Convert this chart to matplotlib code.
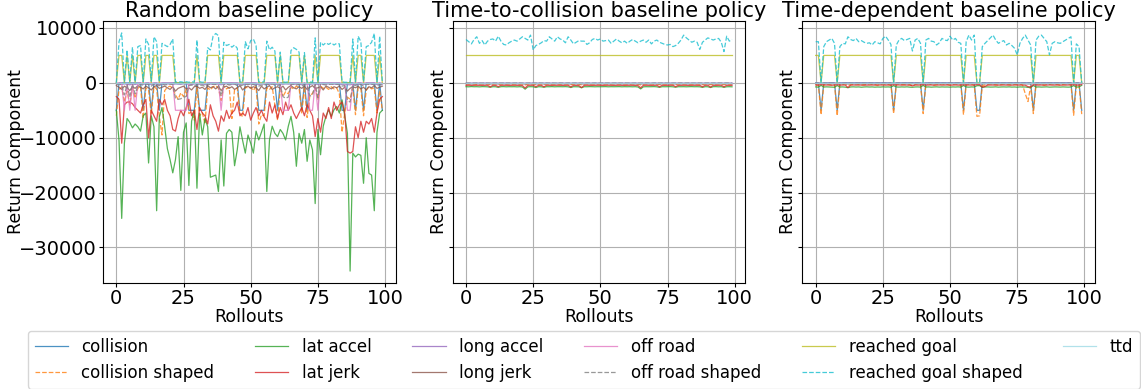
import numpy as np
import matplotlib.pyplot as plt

# Return components per rollout (values in thousands)
rollouts = np.arange(100)

labels = ['collision', 'collision shaped', 'lat accel', 'lat jerk', 'long accel',
          'long jerk', 'off road', 'off road shaped', 'reached goal',
          'reached goal shaped', 'ttd']

# ---------------- Random baseline policy ----------------
rnd_collision = [
    -5, 0, 0, 0, 0, 0, 0, 0, 0, 0,
    -5, 0, 0, -5, 0, 0, -5, 0, 0, 0,
    0, 0, 0, 0, 0, 0, 0, -5, -5, -5,
    0, -5, -5, -5, 0, 0, 0, 0, 0, 0,
    0, 0, 0, 0, 0, 0, -5, -5, 0, 0,
    0, 0, 0, -5, -5, -5, 0, 0, 0, 0,
    -5, 0, 0, 0, 0, 0, 0, 0, 0, -5,
    0, -5, 0, 0, 0, 0, 0, 0, 0, 0,
    0, 0, 0, 0, -5, -5, 0, 0, 0, -5,
    0, 0, -5, 0, 0, 0, 0, -5, 0, -5]
rnd_collision_shaped = [
    -6.0, -1.2, -0.8, -3.5, -1.5, -4.0, -0.9, -2.8, -1.0, -0.6,
    -6.5, -0.9, -1.3, -5.8, -0.7, -1.1, -6.2, -9.5, -1.4, -0.8,
    -0.6, -1.0, -2.2, -3.0, -1.8, -2.5, -1.2, -5.6, -5.3, -6.8,
    -0.8, -6.0, -5.4, -7.5, -0.9, -1.3, -0.7, -0.5, -1.0, -3.2,
    -0.6, -1.1, -0.8, -6.5, -1.2, -0.9, -5.5, -6.2, -0.7, -1.0,
    -0.8, -1.4, -0.6, -7.5, -5.8, -6.0, -0.9, -1.2, -0.7, -4.0,
    -6.8, -1.0, -2.5, -1.6, -2.0, -0.8, -1.1, -0.6, -0.9, -5.6,
    -0.7, -6.3, -2.4, -1.9, -0.9, -3.0, -0.6, -1.0, -0.8, -1.2,
    -0.7, -1.1, -0.9, -2.0, -9.0, -5.5, -2.6, -3.0, -1.0, -5.8,
    -0.8, -1.0, -6.0, -1.3, -0.7, -1.1, -0.9, -5.5, -1.4, -5.0]
rnd_lat_accel = [
    -5.0, -10.5, -24.7, -11.0, -6.5, -7.2, -8.2, -7.5, -8.0, -8.8,
    -6.0, -5.5, -14.6, -6.0, -8.0, -23.3, -6.2, -4.5, -8.0, -12.0,
    -14.0, -16.4, -14.0, -9.8, -19.6, -9.0, -7.3, -18.7, -7.0, -5.0,
    -19.2, -5.5, -9.5, -6.5, -8.0, -17.2, -17.0, -16.8, -19.8, -10.4,
    -18.8, -9.2, -8.5, -9.0, -15.1, -12.2, -8.0, -10.5, -12.8, -9.5,
    -11.0, -12.8, -8.8, -10.4, -9.0, -7.5, -19.8, -10.4, -7.9, -9.2,
    -9.8, -8.5, -9.2, -10.4, -7.9, -6.1, -9.0, -15.2, -9.2, -11.0,
    -8.5, -14.3, -10.4, -12.2, -22.0, -8.5, -13.1, -7.9, -6.1, -4.9,
    -6.1, -4.9, -4.3, -5.5, -3.1, -6.0, -9.2, -34.3, -12.8, -13.5,
    -13.0, -13.2, -18.3, -10.0, -16.5, -16.8, -23.3, -9.0, -5.5, -5.0]
rnd_lat_jerk = [
    -2.5, -3.0, -11.0, -4.0, -3.5, -3.5, -3.8, -4.5, -5.0, -5.5,
    -4.0, -3.0, -10.0, -5.0, -6.0, -7.0, -3.0, -4.0, -3.0, -5.0,
    -6.0, -8.5, -8.8, -6.5, -5.0, -6.0, -4.5, -3.0, -6.0, -5.0,
    -8.5, -4.5, -5.5, -6.0, -7.5, -4.0, -6.0, -7.0, -8.8, -6.0,
    -7.0, -5.0, -6.5, -5.5, -5.0, -3.5, -6.0, -5.5, -6.0, -4.5,
    -6.8, -5.5, -4.5, -6.0, -5.0, -6.2, -7.0, -3.5, -5.5, -4.0,
    -6.5, -4.5, -5.8, -3.5, -5.0, -4.0, -5.5, -6.5, -5.5, -4.5,
    -6.0, -4.0, -5.0, -6.0, -9.8, -6.5, -9.0, -5.5, -6.5, -4.5,
    -6.5, -3.5, -5.0, -4.0, -3.5, -5.5, -12.5, -12.8, -12.5, -8.0,
    -10.0, -7.0, -9.0, -7.0, -7.5, -6.5, -9.0, -5.5, -3.0, -2.5]
rnd_long_accel = [
    -0.15, -0.22, -0.30, -0.18, -0.25, -0.35, -0.20, -0.28, -0.16, -0.21,
    -0.27, -0.19, -0.24, -0.32, -0.17, -0.23, -0.29, -0.20, -0.26, -0.18,
    -0.22, -0.31, -0.19, -0.25, -0.28, -0.16, -0.24, -0.21, -0.33, -0.20,
    -0.18, -0.26, -0.23, -0.30, -0.17, -0.22, -0.27, -0.19, -0.25, -0.34,
    -0.21, -0.16, -0.24, -0.28, -0.20, -0.23, -0.31, -0.18, -0.26, -0.22,
    -0.19, -0.27, -0.21, -0.33, -0.17, -0.25, -0.22, -0.29, -0.18, -0.24,
    -0.30, -0.20, -0.26, -0.19, -0.23, -0.16, -0.28, -0.21, -0.25, -0.32,
    -0.18, -0.24, -0.27, -0.20, -0.22, -0.30, -0.17, -0.26, -0.23, -0.19,
    -0.25, -0.21, -0.28, -0.18, -0.34, -0.24, -0.31, -0.36, -0.20, -0.27,
    -0.22, -0.19, -0.29, -0.23, -0.17, -0.26, -0.21, -0.30, -0.18, -0.24]
rnd_long_jerk = [
    -0.5, -0.8, -1.2, -0.6, -0.9, -1.4, -0.7, -1.0, -0.5, -0.8,
    -1.1, -0.6, -0.9, -1.3, -0.7, -0.5, -1.0, -0.8, -0.6, -0.9,
    -1.2, -0.7, -1.5, -1.0, -0.8, -0.6, -1.1, -0.9, -1.3, -0.7,
    -0.6, -1.0, -0.8, -1.2, -0.5, -0.9, -0.7, -1.1, -0.6, -1.4,
    -0.8, -0.6, -1.0, -0.7, -1.2, -0.9, -0.5, -1.3, -0.8, -0.6,
    -1.0, -0.7, -0.9, -1.4, -0.6, -1.1, -0.8, -0.5, -1.2, -0.9,
    -0.7, -1.0, -0.6, -1.3, -0.8, -0.5, -0.9, -1.1, -0.7, -1.0,
    -0.6, -1.2, -0.8, -0.5, -1.0, -0.9, -0.7, -1.3, -0.6, -0.8,
    -1.1, -0.7, -0.9, -0.6, -1.2, -0.8, -1.5, -1.0, -0.7, -0.9,
    -0.6, -1.1, -0.8, -1.3, -0.7, -0.9, -0.5, -1.0, -0.8, -0.6]
rnd_off_road = [
    0, 0, 0, -5, 0, -5, 0, -5, 0, 0,
    0, 0, 0, 0, 0, 0, 0, 0, 0, 0,
    0, 0, -5, -5, -5, -5, -5, 0, 0, 0,
    0, 0, 0, 0, 0, 0, 0, 0, 0, -5,
    0, 0, 0, 0, 0, 0, 0, 0, 0, 0,
    0, 0, 0, 0, 0, 0, 0, 0, 0, 0,
    0, 0, -5, -5, -5, 0, 0, 0, 0, 0,
    0, 0, -5, -5, 0, -5, 0, 0, 0, 0,
    0, 0, 0, 0, 0, 0, -5, -5, 0, 0,
    0, 0, 0, 0, 0, 0, 0, 0, 0, 0]
rnd_off_road_shaped = [
    -0.3, -0.2, -0.4, -2.2, -0.3, -2.6, -0.2, -2.0, -0.5, -0.3,
    -0.4, -0.2, -0.3, -0.6, -0.2, -0.3, -0.5, -0.2, -0.4, -0.3,
    -0.2, -0.3, -2.8, -3.0, -2.9, -2.6, -2.5, -0.5, -0.4, -0.6,
    -0.3, -0.5, -0.4, -0.7, -0.2, -0.3, -0.2, -0.3, -0.4, -2.4,
    -0.3, -0.2, -0.4, -0.3, -0.2, -0.5, -0.6, -0.4, -0.2, -0.3,
    -0.2, -0.3, -0.5, -0.6, -0.4, -0.5, -0.2, -0.3, -0.2, -0.4,
    -0.5, -0.3, -2.5, -2.8, -2.6, -0.3, -0.2, -0.4, -0.3, -0.6,
    -0.3, -0.5, -2.4, -2.2, -0.3, -2.7, -0.2, -0.3, -0.4, -0.3,
    -0.2, -0.3, -0.2, -0.4, -0.6, -0.5, -3.2, -3.5, -0.3, -0.5,
    -0.2, -0.3, -0.6, -0.2, -0.3, -0.2, -0.4, -0.5, -0.3, -0.4]
rnd_reached_goal = [
    0, 5, 5, 0, 5, 0, 5, 0, 5, 5,
    0, 5, 5, 0, 5, 5, 0, 5, 5, 5,
    5, 5, 0, 0, 0, 0, 0, 0, 0, 0,
    5, 0, 0, 0, 5, 5, 5, 5, 5, 0,
    5, 5, 5, 5, 5, 5, 0, 0, 5, 5,
    5, 5, 5, 0, 0, 0, 5, 5, 5, 5,
    0, 5, 0, 0, 0, 5, 5, 5, 5, 0,
    5, 0, 0, 0, 5, 0, 5, 5, 5, 5,
    5, 5, 5, 5, 0, 0, 0, 0, 5, 0,
    5, 5, 0, 5, 5, 5, 5, 0, 5, 0]
rnd_reached_goal_shaped = [
    0.0, 7.5, 9.1, 0.2, 6.0, 0.3, 6.5, 0.2, 6.6, 6.8,
    0.2, 8.0, 7.0, 0.3, 8.4, 7.5, 0.2, 7.2, 6.9, 6.6,
    7.0, 8.0, 0.2, 0.1, 0.2, 0.1, 0.2, 0.1, 0.2, 0.1,
    7.8, 0.2, 0.1, 0.2, 6.4, 6.0, 8.5, 9.0, 8.6, 0.3,
    7.4, 6.8, 7.0, 6.5, 6.9, 6.3, 0.2, 0.1, 7.5, 6.2,
    7.7, 8.0, 6.8, 0.2, 0.1, 0.2, 7.6, 6.0, 6.5, 5.8,
    0.1, 5.6, 0.2, 0.1, 0.2, 5.9, 6.4, 6.1, 5.6, 0.2,
    5.5, 0.1, 0.2, 0.1, 8.2, 0.2, 7.4, 6.9, 7.3, 7.0,
    7.3, 6.9, 7.2, 7.1, 0.2, 0.1, 0.1, 0.2, 8.0, 0.2,
    8.5, 7.5, 0.2, 6.6, 6.8, 7.4, 9.0, 0.2, 8.5, 0.1]
rnd_ttd = [
    -0.08, -0.12, -0.10, -0.15, -0.09, -0.11, -0.13, -0.07, -0.10, -0.12,
    -0.14, -0.09, -0.11, -0.16, -0.08, -0.10, -0.13, -0.09, -0.12, -0.10,
    -0.11, -0.13, -0.15, -0.14, -0.12, -0.16, -0.13, -0.10, -0.09, -0.11,
    -0.09, -0.12, -0.10, -0.14, -0.08, -0.11, -0.10, -0.09, -0.12, -0.15,
    -0.10, -0.08, -0.11, -0.13, -0.09, -0.12, -0.14, -0.10, -0.08, -0.11,
    -0.09, -0.12, -0.10, -0.15, -0.13, -0.11, -0.08, -0.10, -0.09, -0.12,
    -0.14, -0.10, -0.15, -0.13, -0.12, -0.09, -0.11, -0.08, -0.10, -0.13,
    -0.09, -0.12, -0.14, -0.15, -0.10, -0.13, -0.08, -0.11, -0.09, -0.10,
    -0.12, -0.09, -0.10, -0.11, -0.14, -0.13, -0.16, -0.15, -0.09, -0.12,
    -0.10, -0.08, -0.13, -0.11, -0.09, -0.10, -0.12, -0.14, -0.09, -0.11]

# ---------------- Time-to-collision baseline policy ----------------
ttc_collision = [
    0, 0, 0, 0, 0, 0, 0, 0, 0, 0,
    0, 0, 0, 0, 0, 0, 0, 0, 0, 0,
    0, 0, 0, 0, 0, 0, 0, 0, 0, 0,
    0, 0, 0, 0, 0, 0, 0, 0, 0, 0,
    0, 0, 0, 0, 0, 0, 0, 0, 0, 0,
    0, 0, 0, 0, 0, 0, 0, 0, 0, 0,
    0, 0, 0, 0, 0, 0, 0, 0, 0, 0,
    0, 0, 0, 0, 0, 0, 0, 0, 0, 0,
    0, 0, 0, 0, 0, 0, 0, 0, 0, 0,
    0, 0, 0, 0, 0, 0, 0, 0, 0, 0]
ttc_collision_shaped = [
    -0.20, -0.25, -0.18, -0.22, -0.30, -0.21, -0.19, -0.24, -0.20, -0.35,
    -0.22, -0.18, -0.32, -0.21, -0.20, -0.23, -0.19, -0.25, -0.21, -0.20,
    -0.24, -0.22, -0.40, -0.20, -0.19, -0.21, -0.33, -0.22, -0.20, -0.31,
    -0.21, -0.19, -0.23, -0.20, -0.22, -0.24, -0.18, -0.21, -0.20, -0.34,
    -0.22, -0.20, -0.25, -0.36, -0.21, -0.19, -0.23, -0.20, -0.22, -0.21,
    -0.19, -0.24, -0.20, -0.22, -0.21, -0.18, -0.23, -0.20, -0.22, -0.21,
    -0.20, -0.23, -0.19, -0.21, -0.26, -0.38, -0.22, -0.20, -0.21, -0.19,
    -0.22, -0.20, -0.32, -0.21, -0.23, -0.20, -0.19, -0.22, -0.31, -0.21,
    -0.20, -0.22, -0.19, -0.21, -0.23, -0.20, -0.22, -0.21, -0.33, -0.20,
    -0.21, -0.34, -0.20, -0.22, -0.19, -0.21, -0.32, -0.20, -0.22, -0.21]
ttc_lat_accel = [
    -0.70, -0.72, -0.68, -0.71, -0.70, -0.73, -0.69, -0.70, -0.72, -0.80,
    -0.70, -0.71, -0.82, -0.70, -0.69, -0.72, -0.70, -0.71, -0.70, -0.73,
    -0.70, -0.75, -1.15, -0.72, -0.70, -0.71, -0.85, -0.70, -0.72, -0.80,
    -0.70, -0.71, -0.69, -0.72, -0.70, -0.70, -0.71, -0.69, -0.72, -0.85,
    -0.70, -0.71, -0.72, -0.90, -0.70, -0.71, -0.69, -0.70, -0.72, -0.70,
    -0.71, -0.70, -0.69, -0.72, -0.70, -0.71, -0.70, -0.69, -0.72, -0.70,
    -0.71, -0.70, -0.72, -0.70, -0.75, -1.10, -0.72, -0.70, -0.71, -0.70,
    -0.69, -0.72, -0.82, -0.70, -0.71, -0.70, -0.69, -0.72, -0.80, -0.70,
    -0.71, -0.70, -0.72, -0.70, -0.69, -0.71, -0.70, -0.72, -0.82, -0.70,
    -0.71, -0.85, -0.70, -0.69, -0.72, -0.70, -0.82, -0.71, -0.70, -0.72]
ttc_lat_jerk = [
    -0.45, -0.44, -0.46, -0.45, -0.44, -0.45, -0.46, -0.45, -0.44, -0.75,
    -0.45, -0.46, -0.70, -0.45, -0.44, -0.45, -0.46, -0.45, -0.44, -0.45,
    -0.46, -0.50, -0.95, -0.45, -0.44, -0.45, -0.70, -0.46, -0.45, -0.72,
    -0.44, -0.45, -0.46, -0.45, -0.44, -0.45, -0.46, -0.45, -0.44, -0.75,
    -0.45, -0.46, -0.50, -0.85, -0.45, -0.44, -0.45, -0.46, -0.45, -0.44,
    -0.45, -0.46, -0.45, -0.44, -0.45, -0.46, -0.45, -0.44, -0.45, -0.46,
    -0.45, -0.44, -0.45, -0.46, -0.50, -0.90, -0.45, -0.44, -0.45, -0.46,
    -0.45, -0.44, -0.72, -0.45, -0.46, -0.45, -0.44, -0.45, -0.70, -0.46,
    -0.45, -0.44, -0.45, -0.46, -0.45, -0.44, -0.45, -0.46, -0.72, -0.45,
    -0.44, -0.78, -0.45, -0.46, -0.45, -0.44, -0.72, -0.45, -0.46, -0.45]
ttc_long_accel = [
    -0.06, -0.05, -0.07, -0.06, -0.05, -0.06, -0.07, -0.05, -0.06, -0.08,
    -0.05, -0.06, -0.07, -0.06, -0.05, -0.06, -0.05, -0.07, -0.06, -0.05,
    -0.06, -0.07, -0.09, -0.06, -0.05, -0.06, -0.07, -0.05, -0.06, -0.07,
    -0.05, -0.06, -0.05, -0.07, -0.06, -0.05, -0.06, -0.07, -0.05, -0.08,
    -0.06, -0.05, -0.07, -0.08, -0.06, -0.05, -0.06, -0.07, -0.05, -0.06,
    -0.07, -0.05, -0.06, -0.05, -0.07, -0.06, -0.05, -0.06, -0.07, -0.05,
    -0.06, -0.05, -0.07, -0.06, -0.07, -0.09, -0.06, -0.05, -0.06, -0.07,
    -0.05, -0.06, -0.08, -0.05, -0.06, -0.07, -0.05, -0.06, -0.07, -0.06,
    -0.05, -0.07, -0.06, -0.05, -0.06, -0.07, -0.05, -0.06, -0.08, -0.06,
    -0.05, -0.08, -0.06, -0.07, -0.05, -0.06, -0.08, -0.05, -0.06, -0.07]
ttc_long_jerk = [
    -0.15, -0.14, -0.16, -0.15, -0.13, -0.15, -0.16, -0.14, -0.15, -0.18,
    -0.14, -0.15, -0.17, -0.15, -0.14, -0.16, -0.15, -0.13, -0.15, -0.14,
    -0.16, -0.15, -0.20, -0.14, -0.15, -0.16, -0.17, -0.15, -0.14, -0.18,
    -0.15, -0.14, -0.16, -0.15, -0.13, -0.15, -0.16, -0.14, -0.15, -0.18,
    -0.14, -0.15, -0.16, -0.19, -0.15, -0.14, -0.16, -0.15, -0.13, -0.15,
    -0.16, -0.14, -0.15, -0.14, -0.16, -0.15, -0.13, -0.15, -0.16, -0.14,
    -0.15, -0.14, -0.16, -0.15, -0.17, -0.20, -0.15, -0.14, -0.16, -0.15,
    -0.14, -0.15, -0.18, -0.15, -0.14, -0.16, -0.15, -0.14, -0.17, -0.15,
    -0.16, -0.14, -0.15, -0.16, -0.14, -0.15, -0.13, -0.15, -0.18, -0.15,
    -0.14, -0.18, -0.15, -0.16, -0.14, -0.15, -0.17, -0.15, -0.14, -0.16]
ttc_off_road = [
    0, 0, 0, 0, 0, 0, 0, 0, 0, 0,
    0, 0, 0, 0, 0, 0, 0, 0, 0, 0,
    0, 0, 0, 0, 0, 0, 0, 0, 0, 0,
    0, 0, 0, 0, 0, 0, 0, 0, 0, 0,
    0, 0, 0, 0, 0, 0, 0, 0, 0, 0,
    0, 0, 0, 0, 0, 0, 0, 0, 0, 0,
    0, 0, 0, 0, 0, 0, 0, 0, 0, 0,
    0, 0, 0, 0, 0, 0, 0, 0, 0, 0,
    0, 0, 0, 0, 0, 0, 0, 0, 0, 0,
    0, 0, 0, 0, 0, 0, 0, 0, 0, 0]
ttc_off_road_shaped = [
    -0.04, -0.03, -0.05, -0.04, -0.03, -0.04, -0.05, -0.03, -0.04, -0.05,
    -0.03, -0.04, -0.05, -0.04, -0.03, -0.04, -0.03, -0.05, -0.04, -0.03,
    -0.04, -0.05, -0.06, -0.04, -0.03, -0.04, -0.05, -0.03, -0.04, -0.05,
    -0.03, -0.04, -0.03, -0.05, -0.04, -0.03, -0.04, -0.05, -0.03, -0.05,
    -0.04, -0.03, -0.05, -0.06, -0.04, -0.03, -0.04, -0.05, -0.03, -0.04,
    -0.05, -0.03, -0.04, -0.03, -0.05, -0.04, -0.03, -0.04, -0.05, -0.03,
    -0.04, -0.03, -0.05, -0.04, -0.05, -0.06, -0.04, -0.03, -0.04, -0.05,
    -0.03, -0.04, -0.05, -0.03, -0.04, -0.05, -0.03, -0.04, -0.05, -0.04,
    -0.03, -0.05, -0.04, -0.03, -0.04, -0.05, -0.03, -0.04, -0.05, -0.04,
    -0.03, -0.05, -0.04, -0.05, -0.03, -0.04, -0.05, -0.03, -0.04, -0.05]
ttc_reached_goal = [
    5, 5, 5, 5, 5, 5, 5, 5, 5, 5,
    5, 5, 5, 5, 5, 5, 5, 5, 5, 5,
    5, 5, 5, 5, 5, 5, 5, 5, 5, 5,
    5, 5, 5, 5, 5, 5, 5, 5, 5, 5,
    5, 5, 5, 5, 5, 5, 5, 5, 5, 5,
    5, 5, 5, 5, 5, 5, 5, 5, 5, 5,
    5, 5, 5, 5, 5, 5, 5, 5, 5, 5,
    5, 5, 5, 5, 5, 5, 5, 5, 5, 5,
    5, 5, 5, 5, 5, 5, 5, 5, 5, 5,
    5, 5, 5, 5, 5, 5, 5, 5, 5, 5]
ttc_reached_goal_shaped = [
    7.9, 7.5, 7.1, 7.9, 8.4, 7.2, 7.7, 6.9, 7.6, 7.9,
    8.0, 7.6, 8.5, 7.6, 7.0, 6.9, 7.3, 7.6, 7.8, 7.6,
    8.0, 8.4, 8.1, 7.8, 8.7, 6.0, 6.8, 7.0, 7.3, 7.7,
    7.6, 8.4, 8.0, 7.6, 8.4, 8.0, 7.8, 7.3, 8.4, 7.8,
    7.1, 7.4, 7.7, 7.6, 7.6, 7.0, 7.3, 7.9, 8.1, 7.8,
    8.0, 7.6, 7.7, 7.8, 7.2, 7.6, 8.0, 7.6, 7.3, 7.6,
    7.2, 7.6, 7.9, 7.6, 7.3, 7.6, 7.8, 7.4, 7.8, 7.1,
    7.6, 7.8, 7.4, 7.2, 7.0, 6.9, 7.0, 6.6, 6.8, 7.2,
    7.8, 8.7, 8.2, 7.8, 7.4, 7.6, 7.4, 6.1, 7.4, 7.8,
    8.2, 8.0, 7.8, 8.0, 8.1, 7.4, 5.7, 8.5, 7.6, 7.9]
ttc_ttd = [
    -0.10, -0.09, -0.11, -0.10, -0.08, -0.10, -0.11, -0.09, -0.10, -0.12,
    -0.09, -0.10, -0.12, -0.10, -0.09, -0.11, -0.10, -0.08, -0.10, -0.09,
    -0.11, -0.10, -0.14, -0.09, -0.10, -0.11, -0.12, -0.10, -0.09, -0.12,
    -0.10, -0.09, -0.11, -0.10, -0.08, -0.10, -0.11, -0.09, -0.10, -0.12,
    -0.09, -0.10, -0.11, -0.13, -0.10, -0.09, -0.11, -0.10, -0.08, -0.10,
    -0.11, -0.09, -0.10, -0.09, -0.11, -0.10, -0.08, -0.10, -0.11, -0.09,
    -0.10, -0.09, -0.11, -0.10, -0.12, -0.14, -0.10, -0.09, -0.11, -0.10,
    -0.09, -0.10, -0.12, -0.10, -0.09, -0.11, -0.10, -0.09, -0.12, -0.10,
    -0.11, -0.09, -0.10, -0.11, -0.09, -0.10, -0.08, -0.10, -0.12, -0.10,
    -0.09, -0.12, -0.10, -0.11, -0.09, -0.10, -0.12, -0.10, -0.09, -0.11]

# ---------------- Time-dependent baseline policy ----------------
td_collision = [
    0, 0, -5, 0, 0, 0, 0, 0, -5, 0,
    0, 0, 0, 0, 0, 0, 0, 0, 0, 0,
    0, 0, 0, 0, 0, 0, 0, 0, 0, -5,
    0, 0, 0, 0, 0, 0, 0, 0, 0, 0,
    -5, 0, 0, 0, 0, 0, 0, 0, 0, 0,
    0, 0, 0, 0, 0, -5, 0, 0, 0, 0,
    -5, -5, 0, 0, 0, 0, 0, 0, 0, 0,
    0, 0, 0, 0, 0, 0, 0, 0, 0, 0,
    0, -5, 0, 0, 0, 0, 0, 0, 0, 0,
    0, 0, 0, 0, 0, 0, -5, 0, 0, -5]
td_collision_shaped = [
    -0.3, -0.4, -5.8, -0.3, -0.2, -0.3, -0.4, -0.3, -6.0, -0.3,
    -0.3, -0.2, -0.5, -0.3, -0.3, -0.2, -0.3, -0.4, -0.3, -0.3,
    -0.2, -0.3, -0.3, -0.4, -0.3, -0.2, -0.3, -0.3, -0.4, -5.6,
    -0.3, -0.2, -0.3, -0.3, -0.4, -0.3, -0.5, -0.3, -0.2, -0.3,
    -5.6, -0.3, -0.2, -0.3, -0.4, -0.3, -0.3, -0.2, -0.3, -0.3,
    -0.4, -0.3, -0.2, -0.3, -0.4, -5.8, -0.3, -0.3, -0.2, -0.4,
    -6.1, -6.0, -0.5, -0.4, -0.3, -0.2, -0.3, -0.3, -0.4, -0.3,
    -0.2, -0.3, -0.3, -0.4, -0.3, -0.3, -0.2, -0.4, -2.0, -3.4,
    -0.6, -5.6, -0.3, -0.2, -0.3, -0.4, -0.3, -0.3, -0.2, -0.3,
    -0.3, -0.4, -0.3, -0.2, -0.3, -0.3, -5.9, -0.4, -0.3, -5.7]
td_lat_accel = [
    -0.74, -0.78, -0.45, -0.76, -0.73, -0.75, -0.77, -0.80, -0.48, -0.76,
    -0.74, -0.78, -0.88, -0.75, -0.73, -0.76, -0.74, -0.79, -0.75, -0.73,
    -0.76, -0.74, -0.78, -0.75, -0.77, -0.73, -0.76, -0.74, -0.78, -0.50,
    -0.75, -0.77, -0.74, -0.76, -0.73, -0.78, -0.80, -0.75, -0.74, -0.77,
    -0.46, -0.76, -0.74, -0.78, -0.75, -0.73, -0.77, -0.74, -0.76, -0.75,
    -0.78, -0.74, -0.76, -0.73, -0.77, -0.47, -0.75, -0.78, -0.74, -0.76,
    -0.52, -0.50, -0.82, -0.75, -0.74, -0.77, -0.76, -0.73, -0.78, -0.75,
    -0.74, -0.76, -0.73, -0.77, -0.75, -0.79, -0.74, -0.76, -0.75, -0.82,
    -0.85, -0.48, -0.76, -0.74, -0.77, -0.75, -0.73, -0.78, -0.76, -0.74,
    -0.75, -0.77, -0.74, -0.76, -0.78, -0.75, -0.49, -0.77, -0.74, -0.45]
td_lat_jerk = [
    -0.38, -0.42, -0.30, -0.40, -0.39, -0.41, -0.43, -0.40, -0.32, -0.41,
    -0.39, -0.40, -0.85, -0.42, -0.38, -0.41, -0.40, -0.39, -0.43, -0.40,
    -0.41, -0.39, -0.40, -0.42, -0.38, -0.40, -0.41, -0.39, -0.42, -0.31,
    -0.40, -0.38, -0.41, -0.40, -0.39, -0.42, -0.55, -0.40, -0.41, -0.39,
    -0.30, -0.41, -0.40, -0.38, -0.42, -0.40, -0.39, -0.41, -0.40, -0.38,
    -0.42, -0.40, -0.39, -0.41, -0.40, -0.33, -0.41, -0.39, -0.40, -0.42,
    -0.31, -0.30, -0.80, -0.65, -0.41, -0.40, -0.39, -0.42, -0.40, -0.41,
    -0.39, -0.40, -0.42, -0.41, -0.38, -0.40, -0.41, -0.39, -0.42, -0.70,
    -0.75, -0.32, -0.40, -0.41, -0.39, -0.42, -0.40, -0.38, -0.41, -0.40,
    -0.39, -0.42, -0.40, -0.41, -0.38, -0.40, -0.31, -0.41, -0.40, -0.30]
td_long_accel = [
    -0.05, -0.06, -0.04, -0.05, -0.06, -0.05, -0.07, -0.05, -0.04, -0.06,
    -0.05, -0.06, -0.08, -0.05, -0.06, -0.05, -0.04, -0.06, -0.05, -0.06,
    -0.05, -0.06, -0.05, -0.07, -0.05, -0.06, -0.05, -0.04, -0.06, -0.04,
    -0.06, -0.05, -0.06, -0.05, -0.07, -0.05, -0.06, -0.05, -0.06, -0.05,
    -0.04, -0.06, -0.05, -0.06, -0.05, -0.07, -0.05, -0.06, -0.05, -0.06,
    -0.05, -0.06, -0.05, -0.06, -0.05, -0.04, -0.06, -0.05, -0.07, -0.05,
    -0.04, -0.04, -0.07, -0.06, -0.05, -0.06, -0.05, -0.06, -0.05, -0.06,
    -0.05, -0.06, -0.05, -0.06, -0.07, -0.05, -0.06, -0.05, -0.06, -0.07,
    -0.07, -0.04, -0.05, -0.06, -0.05, -0.06, -0.05, -0.06, -0.05, -0.06,
    -0.05, -0.06, -0.05, -0.06, -0.05, -0.06, -0.04, -0.06, -0.05, -0.04]
td_long_jerk = [
    -0.14, -0.16, -0.10, -0.15, -0.14, -0.16, -0.15, -0.14, -0.11, -0.15,
    -0.16, -0.14, -0.19, -0.15, -0.14, -0.16, -0.15, -0.14, -0.16, -0.15,
    -0.14, -0.16, -0.15, -0.14, -0.16, -0.15, -0.14, -0.16, -0.15, -0.10,
    -0.15, -0.14, -0.16, -0.15, -0.14, -0.16, -0.17, -0.15, -0.14, -0.16,
    -0.11, -0.15, -0.14, -0.16, -0.15, -0.14, -0.16, -0.15, -0.14, -0.16,
    -0.15, -0.14, -0.16, -0.15, -0.14, -0.10, -0.15, -0.16, -0.14, -0.15,
    -0.11, -0.10, -0.18, -0.17, -0.15, -0.14, -0.16, -0.15, -0.14, -0.16,
    -0.15, -0.14, -0.16, -0.15, -0.14, -0.16, -0.15, -0.14, -0.16, -0.18,
    -0.18, -0.11, -0.15, -0.14, -0.16, -0.15, -0.14, -0.16, -0.15, -0.14,
    -0.16, -0.15, -0.14, -0.16, -0.15, -0.14, -0.10, -0.15, -0.16, -0.11]
td_off_road = [
    0, 0, 0, 0, 0, 0, 0, 0, 0, 0,
    0, 0, 0, 0, 0, 0, 0, 0, 0, 0,
    0, 0, 0, 0, 0, 0, 0, 0, 0, 0,
    0, 0, 0, 0, 0, 0, 0, 0, 0, 0,
    0, 0, 0, 0, 0, 0, 0, 0, 0, 0,
    0, 0, 0, 0, 0, 0, 0, 0, 0, 0,
    0, 0, 0, 0, 0, 0, 0, 0, 0, 0,
    0, 0, 0, 0, 0, 0, 0, 0, 0, 0,
    0, 0, 0, 0, 0, 0, 0, 0, 0, 0,
    0, 0, 0, 0, 0, 0, 0, 0, 0, 0]
td_off_road_shaped = [
    -0.04, -0.05, -0.03, -0.04, -0.05, -0.04, -0.03, -0.05, -0.03, -0.04,
    -0.05, -0.04, -0.06, -0.04, -0.05, -0.03, -0.04, -0.05, -0.04, -0.03,
    -0.05, -0.04, -0.05, -0.03, -0.04, -0.05, -0.04, -0.03, -0.05, -0.03,
    -0.04, -0.05, -0.04, -0.03, -0.05, -0.04, -0.06, -0.04, -0.05, -0.04,
    -0.03, -0.04, -0.05, -0.04, -0.03, -0.05, -0.04, -0.05, -0.04, -0.03,
    -0.05, -0.04, -0.03, -0.05, -0.04, -0.03, -0.04, -0.05, -0.04, -0.05,
    -0.03, -0.03, -0.06, -0.05, -0.04, -0.03, -0.05, -0.04, -0.05, -0.04,
    -0.03, -0.05, -0.04, -0.05, -0.04, -0.03, -0.05, -0.04, -0.05, -0.06,
    -0.06, -0.03, -0.04, -0.05, -0.04, -0.03, -0.05, -0.04, -0.05, -0.04,
    -0.05, -0.04, -0.03, -0.05, -0.04, -0.05, -0.03, -0.04, -0.05, -0.03]
td_reached_goal = [
    5, 5, 0, 5, 5, 5, 5, 5, 0, 5,
    5, 5, 5, 5, 5, 5, 5, 5, 5, 5,
    5, 5, 5, 5, 5, 5, 5, 5, 5, 0,
    5, 5, 5, 5, 5, 5, 5, 5, 5, 5,
    0, 5, 5, 5, 5, 5, 5, 5, 5, 5,
    5, 5, 5, 5, 5, 0, 5, 5, 5, 5,
    0, 0, 5, 5, 5, 5, 5, 5, 5, 5,
    5, 5, 5, 5, 5, 5, 5, 5, 5, 5,
    5, 0, 5, 5, 5, 5, 5, 5, 5, 5,
    5, 5, 5, 5, 5, 5, 0, 5, 5, 0]
td_reached_goal_shaped = [
    7.5, 7.5, 0.0, 6.6, 7.5, 7.8, 8.1, 7.2, 0.0, 6.6,
    7.2, 7.1, 8.4, 7.9, 7.7, 8.1, 7.5, 7.7, 7.4, 7.2,
    7.3, 6.9, 7.5, 7.3, 7.1, 8.1, 8.5, 7.8, 7.0, 0.0,
    6.9, 7.8, 8.1, 7.7, 7.9, 8.1, 5.8, 7.8, 8.1, 7.2,
    0.0, 7.8, 8.1, 7.6, 7.5, 6.9, 7.3, 8.1, 7.8, 7.7,
    8.5, 7.8, 8.1, 7.4, 7.2, 0.0, 7.5, 8.7, 7.8, 8.7,
    0.0, 0.0, 6.6, 7.2, 7.7, 8.2, 8.7, 7.8, 7.2, 7.5,
    7.7, 6.9, 7.2, 6.8, 6.3, 5.1, 7.2, 8.1, 8.7, 7.8,
    6.9, 0.0, 7.8, 8.5, 8.7, 8.1, 7.5, 5.1, 7.2, 7.5,
    7.3, 7.2, 7.5, 7.8, 8.1, 8.4, 0.0, 7.1, 6.6, 0.0]
td_ttd = [
    -0.10, -0.11, -0.07, -0.10, -0.09, -0.11, -0.10, -0.12, -0.07, -0.10,
    -0.09, -0.11, -0.13, -0.10, -0.09, -0.11, -0.10, -0.12, -0.10, -0.09,
    -0.11, -0.10, -0.09, -0.11, -0.10, -0.12, -0.10, -0.09, -0.11, -0.07,
    -0.10, -0.11, -0.09, -0.10, -0.12, -0.10, -0.13, -0.10, -0.11, -0.09,
    -0.07, -0.10, -0.11, -0.09, -0.10, -0.12, -0.10, -0.11, -0.09, -0.10,
    -0.11, -0.10, -0.09, -0.11, -0.10, -0.07, -0.10, -0.12, -0.10, -0.11,
    -0.07, -0.06, -0.12, -0.11, -0.10, -0.09, -0.11, -0.10, -0.12, -0.10,
    -0.09, -0.11, -0.10, -0.12, -0.11, -0.10, -0.09, -0.11, -0.12, -0.13,
    -0.12, -0.07, -0.10, -0.11, -0.09, -0.10, -0.12, -0.10, -0.11, -0.09,
    -0.10, -0.11, -0.09, -0.10, -0.12, -0.10, -0.07, -0.11, -0.10, -0.06]

panels = [
    ("Random baseline policy",
     [rnd_collision, rnd_collision_shaped, rnd_lat_accel, rnd_lat_jerk, rnd_long_accel,
      rnd_long_jerk, rnd_off_road, rnd_off_road_shaped, rnd_reached_goal,
      rnd_reached_goal_shaped, rnd_ttd]),
    ("Time-to-collision baseline policy",
     [ttc_collision, ttc_collision_shaped, ttc_lat_accel, ttc_lat_jerk, ttc_long_accel,
      ttc_long_jerk, ttc_off_road, ttc_off_road_shaped, ttc_reached_goal,
      ttc_reached_goal_shaped, ttc_ttd]),
    ("Time-dependent baseline policy",
     [td_collision, td_collision_shaped, td_lat_accel, td_lat_jerk, td_long_accel,
      td_long_jerk, td_off_road, td_off_road_shaped, td_reached_goal,
      td_reached_goal_shaped, td_ttd]),
]

colors = ['C0', 'C1', 'C2', 'C3', 'C4', 'C5', 'C6', 'C7', 'C8', 'C9', '#9edae5']
styles = ['-', '--', '-', '-', '-', '-', '-', '--', '-', '--', '-']

fig, axes = plt.subplots(1, 3, figsize=(11.41, 3.89), dpi=100, sharey=True)
fig.subplots_adjust(left=0.0903, right=0.9597, bottom=0.2725, top=0.946, wspace=0.195)

# where the y label sits (right edge, axes coords)
ylabel_x = [-0.268, -0.017, -0.017]

for ax, (title, series), lx in zip(axes, panels, ylabel_x):
    for vals, lab, col, ls in zip(series, labels, colors, styles):
        ax.plot(rollouts, np.array(vals) * 1000, color=col, ls=ls, lw=0.9,
                alpha=0.8, label=lab)
    ax.set_title(title, fontsize=15, pad=3)
    ax.set_xlabel('Rollouts', fontsize=12.5, labelpad=0)
    ax.set_ylabel('Return Component', fontsize=12.5)
    ax.yaxis.set_label_coords(lx, 0.5)
    ax.set_xticks([0, 25, 50, 75, 100])
    ax.tick_params(labelsize=14, length=3, pad=1.5)
    ax.grid(True)

handles, labs = axes[0].get_legend_handles_labels()
fig.legend(handles, labs, loc='upper center', bbox_to_anchor=(0.5118, 0.149),
           ncol=6, fontsize=12, columnspacing=2.45, borderaxespad=0)

fig.savefig('out.png', dpi=100)
